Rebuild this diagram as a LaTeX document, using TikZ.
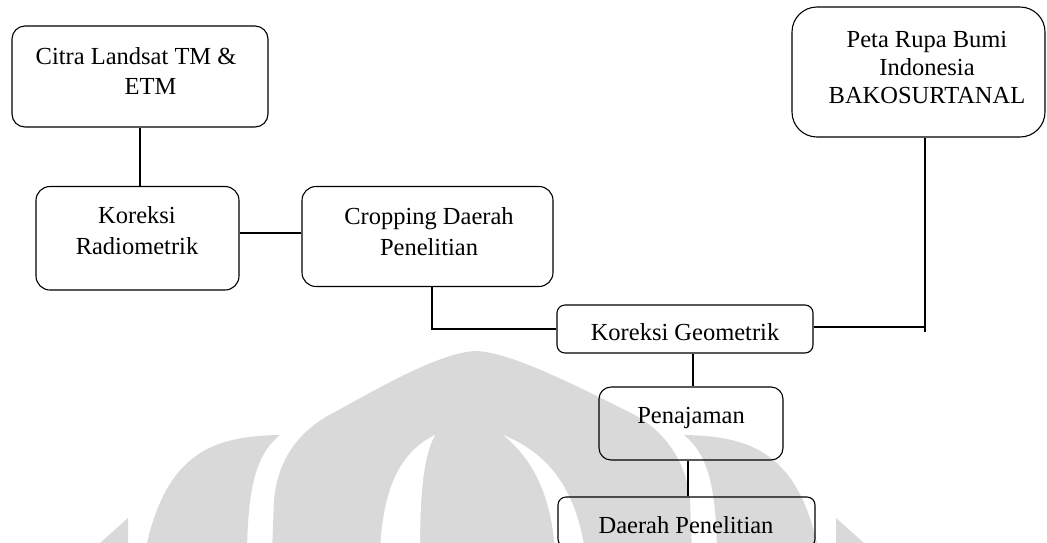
\documentclass[tikz,border=0pt]{standalone}
\usepackage{fontspec}
\setmainfont{Liberation Serif}
\definecolor{wm}{RGB}{217,217,217}
\begin{document}
\begin{tikzpicture}[x=1pt,y=-1pt,
  box/.style={draw, line width=1.1pt, inner sep=0pt},
  txt/.style={inner sep=0pt, font=\fontsize{24.5}{30}\selectfont},
  link/.style={line width=1.1pt}]
\useasboundingbox (0,0) rectangle (1047,542);
\begin{scope}
\clip (0,0) rectangle (1047,542);
% watermark
\fill[wm] (128,518) -- (90,552) -- (128,552) -- cycle;
\fill[wm] (836,518) -- (874,552) -- (836,552) -- cycle;
\fill[wm] (280,435) .. controls (210,436) and (165,455) .. (145,552) -- (247,552) .. controls (248,490) and (255,455) .. (280,435) -- cycle;
\fill[wm] (684,435) .. controls (754,436) and (799,455) .. (819,552) -- (717,552) .. controls (716,490) and (709,455) .. (684,435) -- cycle;
\fill[wm] (272,552) -- (274,500) .. controls (278,458) and (300,430) .. (333,413) .. controls (375,390) and (440,352) .. (476,351) .. controls (510,352) and (575,385) .. (631,413) .. controls (664,430) and (686,460) .. (690,500) -- (692,552) -- cycle;
\fill[white] (435,435) .. controls (405,450) and (383,480) .. (380,552) -- (420,552) .. controls (420,490) and (424,455) .. (435,435) -- cycle;
\fill[white] (503,435) .. controls (540,450) and (575,480) .. (585,552) -- (555,552) .. controls (552,500) and (535,460) .. (503,435) -- cycle;
% boxes
\node[box, rounded corners=13pt, minimum width=256pt, minimum height=101pt] (citra) at (140,76.5) {};
\node[box, rounded corners=14pt, minimum width=203pt, minimum height=103.5pt] (radio) at (137.5,238.25) {};
\node[box, rounded corners=14pt, minimum width=251pt, minimum height=100pt] (crop) at (427.5,236.5) {};
\node[box, rounded corners=25pt, minimum width=253pt, minimum height=130pt] (peta) at (918.5,72) {};
\node[box, rounded corners=8pt, minimum width=256pt, minimum height=48pt] (kg) at (685,329) {};
\node[box, rounded corners=12pt, minimum width=184pt, minimum height=73pt] (pen) at (691,423.5) {};
\node[box, rounded corners=8pt, minimum width=257pt, minimum height=50pt] (daerah) at (686.5,522) {};
% texts
\node[txt, align=left, anchor=north west] (citraT) at (35.5,47.3) {Citra Landsat TM \&\\\hspace*{89pt}ETM};
\node[txt, font=\fontsize{24.5}{31}\selectfont, align=center, anchor=north] (radioT) at (137,205.9) {Koreksi\\Radiometrik};
\node[txt, font=\fontsize{24.5}{31}\selectfont, align=center, anchor=north] (cropT) at (429,206.9) {Cropping Daerah\\Penelitian};
\node[txt, font=\fontsize{24.5}{28}\selectfont, align=center, anchor=north] (petaT) at (927,31.3) {Peta Rupa Bumi\\Indonesia\\BAKOSURTANAL};
\node[txt, anchor=base] (kgT) at (685,340) {Koreksi Geometrik};
\node[txt, anchor=base] (penT) at (691,423) {Penajaman};
\node[txt, anchor=base] (daerahT) at (686,533) {Daerah Penelitian};
% connectors
\coordinate (petaEnd) at ([xshift=6.5pt,yshift=-194pt]peta.south);
\draw[link] (citra.south) -- (citra.south |- radio.north);
\draw[link] ([yshift=5.25pt]radio.east) -- ([yshift=5.25pt]radio.east -| crop.west);
\draw[link] ([xshift=4.5pt]crop.south) |- (kg.west);
\draw[link] ([yshift=2pt]kg.east) -- ([yshift=2pt]kg.east -| petaEnd);
\draw[link] ([xshift=6.5pt]peta.south) -- (petaEnd);
\draw[link] ([xshift=2pt]pen.north |- kg.south) -- ([xshift=2pt]pen.north);
\draw[link] ([xshift=1.5pt]daerah.north |- pen.south) -- ([xshift=1.5pt]daerah.north);
\end{scope}
\end{tikzpicture}
\end{document}
